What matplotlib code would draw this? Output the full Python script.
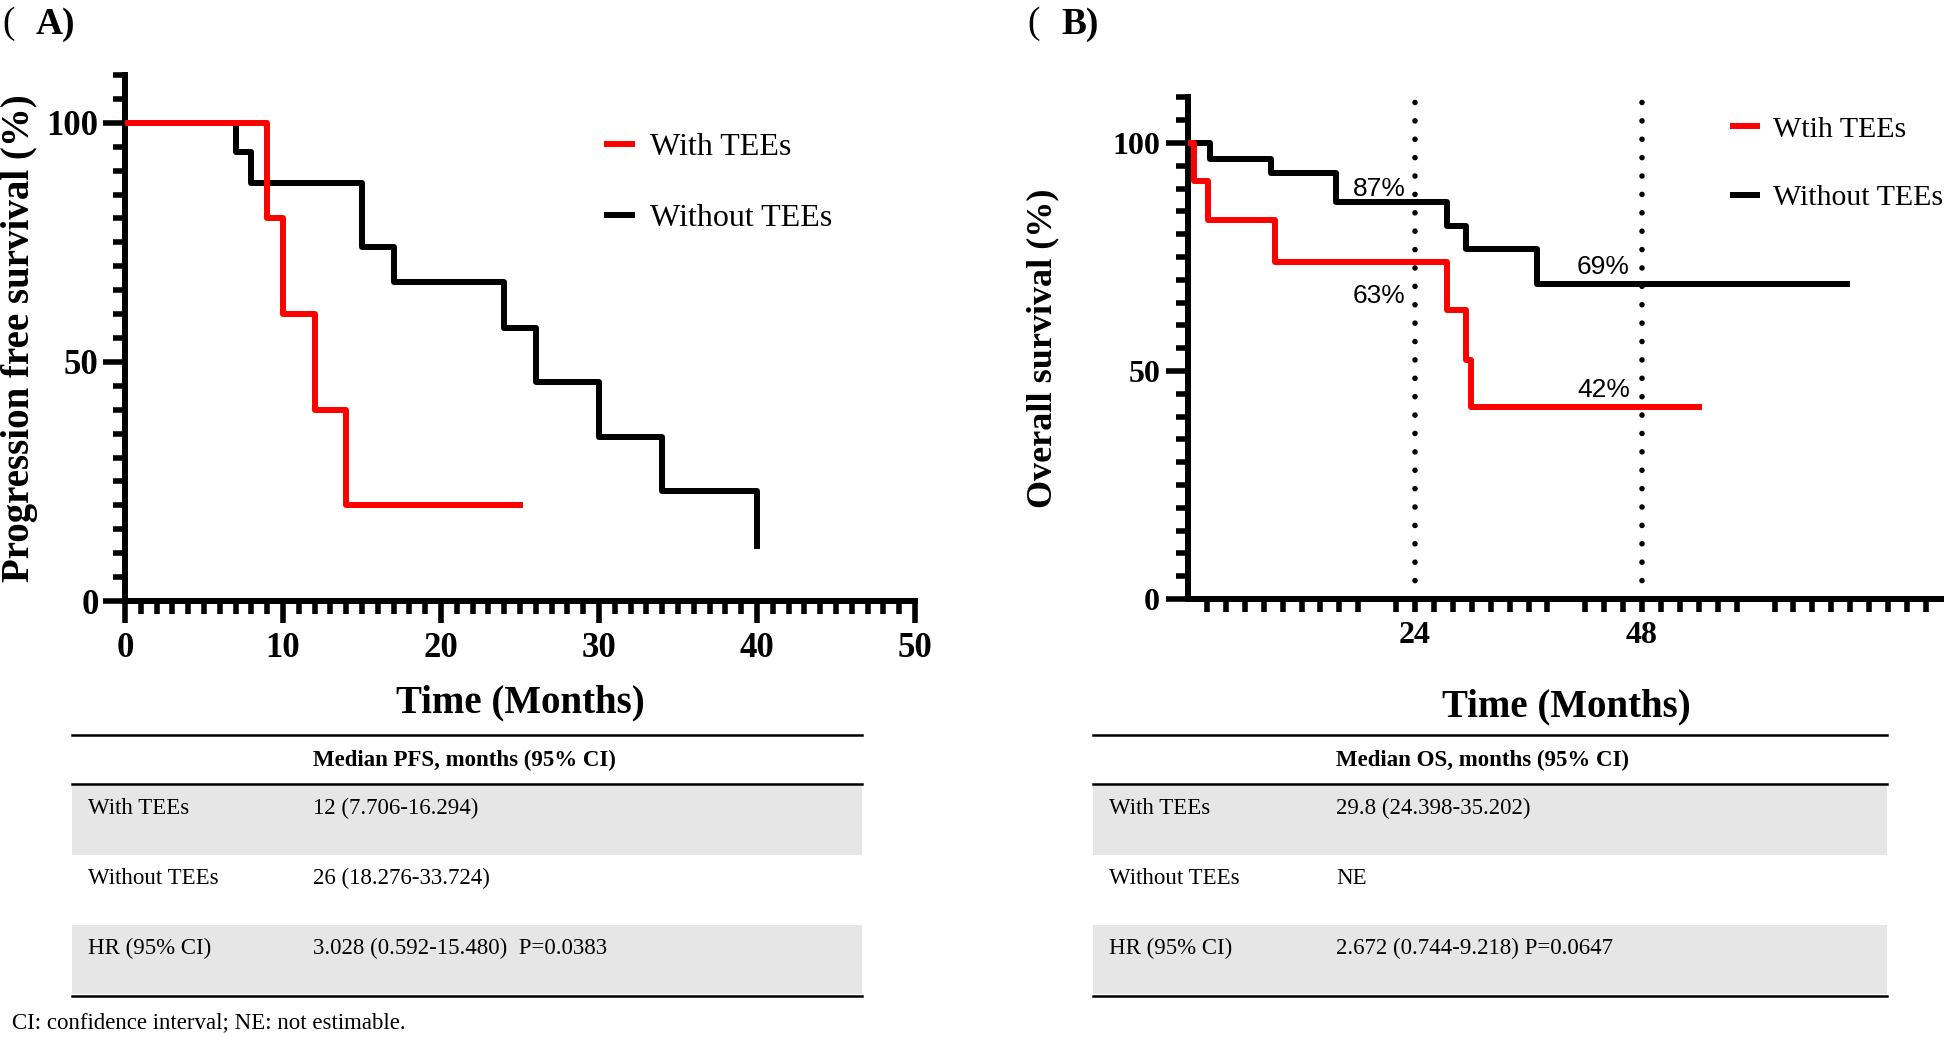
import matplotlib.pyplot as plt
from matplotlib.lines import Line2D
from matplotlib.patches import Rectangle

# Kaplan-Meier steps (months, % surviving)
pfs_with_t = [0, 9, 10, 12, 14, 25]
pfs_with_s = [100, 80, 60, 40, 20, 20]
pfs_without_t = [0, 7, 8, 15, 17, 24, 26, 30, 34, 40]
pfs_without_s = [100, 93.9, 87.5, 74, 66.7, 57.1, 45.7, 34.3, 23, 11.6]

os_with_t = [0, 0.6, 2.1, 9.2, 27.4, 29.4, 29.9, 54]
os_with_s = [100, 91.6, 83.2, 73.9, 63.4, 52.5, 42.2, 42.2]
os_without_t = [0, 2.3, 8.8, 15.6, 27.4, 29.4, 36.9, 69.7]
os_without_s = [100, 96.6, 93.5, 87, 81.8, 76.7, 69, 69]

landmarks = [24, 48]
landmark_labels = ["87%", "63%", "69%", "42%"]

# tables under the plots
row_labels = ["With TEEs", "Without TEEs", "HR (95% CI)"]
pfs_header = "Median PFS, months (95% CI)"
pfs_values = ["12 (7.706-16.294)", "26 (18.276-33.724)", "3.028 (0.592-15.480)  P=0.0383"]
os_header = "Median OS, months (95% CI)"
os_values = ["29.8 (24.398-35.202)", "NE", "2.672 (0.744-9.218) P=0.0647"]
footnote = "CI: confidence interval; NE: not estimable."

plt.rcParams['font.family'] = ['Liberation Serif', 'DejaVu Sans']

W, H = 1944, 1038
fig = plt.figure(figsize=(W / 100, H / 100), dpi=100)


def fx(x):
    return x / W


def fy(y):
    return 1 - y / H


def style_axis(ax):
    for side in ['top', 'right']:
        ax.spines[side].set_visible(False)
    for side in ['left', 'bottom']:
        ax.spines[side].set_linewidth(4.3)
    ax.tick_params(which='both', direction='out', width=4, color='black')
    ax.tick_params(which='major', length=16)
    ax.tick_params(which='minor', length=9)


# ---------------- panel A : PFS ----------------
axA = fig.add_axes([fx(125), fy(601), fx(915) - fx(125), fy(75) - fy(601)])
style_axis(axA)
lw = 4.3
axA.step(pfs_with_t, pfs_with_s, where='post', color='red', lw=lw, label='With TEEs', zorder=3)
axA.step(pfs_without_t, pfs_without_s, where='post', color='black', lw=lw, label='Without TEEs', zorder=2)
axA.set_xlim(0, 50)
axA.set_ylim(0, 110)
axA.set_xticks(range(0, 51, 10), [str(t) for t in range(0, 51, 10)], fontsize=25, fontweight='bold')
axA.set_xticks([t for t in range(1, 50) if t % 10], minor=True)
axA.set_yticks([0, 50, 100], ['0', '50', '100'], fontsize=25, fontweight='bold')
axA.set_yticks([t for t in range(5, 111, 5) if t % 50], minor=True)
axA.tick_params(axis='x', which='major', pad=6)
axA.tick_params(axis='y', which='major', pad=3)
axA.set_xlabel('Time (Months)', fontsize=28, fontweight='bold', va='center')
axA.xaxis.set_label_coords(0.5, -0.194)
axA.set_ylabel('Progression free survival (%)', fontsize=28, fontweight='bold', va='center')
axA.yaxis.set_label_coords(-0.133, 0.5)
axA.legend(loc='center left', bbox_to_anchor=(0.61, 0.795), frameon=False, fontsize=23,
           handlelength=0.8, handletextpad=0.55, labelspacing=1.3, borderaxespad=0, borderpad=0)

# ---------------- panel B : OS ----------------
axB = fig.add_axes([fx(1188), fy(599), fx(1188 + 80 * 9.46) - fx(1188), fy(97.4) - fy(599)])
style_axis(axB)
for lm in landmarks:
    axB.plot([lm, lm], [0, 110], color='black', lw=4, linestyle=(0, (0.01, 3.3)),
             dash_capstyle='round', zorder=1)
axB.step(os_with_t, os_with_s, where='post', color='red', lw=lw, label='Wtih TEEs', zorder=3)
axB.step(os_without_t, os_without_s, where='post', color='black', lw=lw, label='Without TEEs', zorder=2)
axB.set_xlim(0, 80)
axB.set_ylim(0, 110)
axB.set_xticks(landmarks, [str(t) for t in landmarks], fontsize=23, fontweight='bold')
axB.set_xticks([t for t in range(2, 80, 2) if t % 20 and t not in landmarks], minor=True)
axB.tick_params(axis='x', which='major', length=9, pad=7)
axB.set_yticks([0, 50, 100], ['0', '50', '100'], fontsize=23, fontweight='bold')
axB.set_yticks([t for t in range(5, 111, 5) if t % 50], minor=True)
axB.tick_params(axis='y', which='major', pad=4)
axB.set_xlabel('Time (Months)', fontsize=28, fontweight='bold', va='center')
axB.xaxis.set_label_coords(0.5, -0.216)
axB.set_ylabel('Overall survival (%)', fontsize=26, fontweight='bold', va='center')
axB.yaxis.set_label_coords(-0.192, 0.5)
axB.legend(loc='center left', bbox_to_anchor=(0.72, 0.868), frameon=False, fontsize=21.5,
           handlelength=0.8, handletextpad=0.55, labelspacing=1.4, borderaxespad=0, borderpad=0)

# landmark survival labels
ann_pos = [(23, 90.0), (23, 66.4), (46.7, 72.8), (46.7, 45.8)]
for lab, (x, y) in zip(landmark_labels, ann_pos):
    axB.text(x, y, lab, ha='right', va='center', fontsize=19, family='Liberation Sans')

# panel letters
for x_par, x_let, letter in [(2, 36, 'A'), (1027, 1061, 'B')]:
    fig.text(fx(x_par), fy(24), '(', fontsize=27, va='center', ha='left')
    fig.text(fx(x_let), fy(24), letter + ')', fontsize=27, fontweight='bold', va='center', ha='left')


# ---------------- tables ----------------
def draw_table(x0, x1, lab_x, val_x, header, values):
    edges = [785, 855, 925, 994]
    for i in range(3):
        if i != 1:
            fig.add_artist(Rectangle((fx(x0), fy(edges[i + 1])), fx(x1) - fx(x0),
                                     fy(edges[i]) - fy(edges[i + 1]), transform=fig.transFigure,
                                     facecolor='#e6e6e6', edgecolor='none'))
        ty = edges[i] + 23
        fig.text(fx(lab_x), fy(ty), row_labels[i], fontsize=16.5, va='center')
        fig.text(fx(val_x), fy(ty), values[i], fontsize=16.5, va='center')
    for y in [735, 784, 996]:
        fig.add_artist(Line2D([fx(x0), fx(x1)], [fy(y), fy(y)], transform=fig.transFigure,
                              color='black', lw=1.8))
    fig.text(fx(val_x), fy(760), header, fontsize=16.5, fontweight='bold', va='center')


draw_table(72, 862, 88, 313, pfs_header, pfs_values)
draw_table(1093, 1887, 1109, 1336, os_header, os_values)

fig.text(fx(12), fy(1023), footnote, fontsize=16.5, va='center')

fig.savefig('out.png', dpi=100)
